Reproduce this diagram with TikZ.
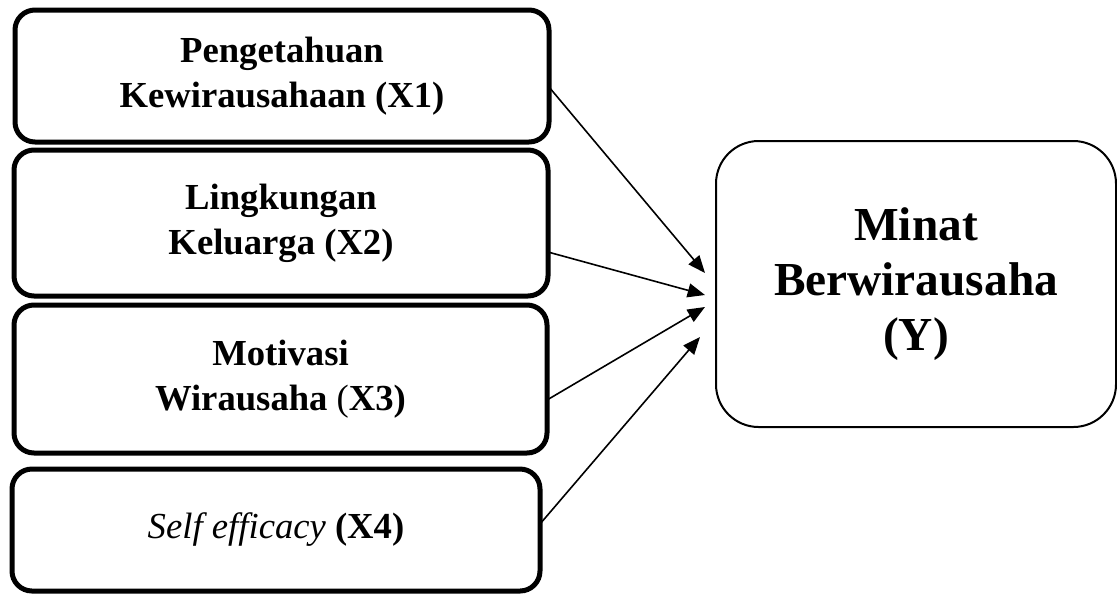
\documentclass[tikz,border=0pt]{standalone}
\usepackage{fontspec}
\setmainfont{Liberation Serif}
\usetikzlibrary{arrows.meta,calc}
\tikzset{
  lbox/.style={draw=black, line width=3.75pt, rounded corners=15pt, align=center,
    inner sep=0pt, outer sep=0pt,
    font=\fontsize{27.5}{33.75}\selectfont\bfseries},
  rbox/.style={draw=black, line width=1.5pt, rounded corners=32pt, align=center,
    inner sep=0pt, outer sep=0pt,
    font=\fontsize{35.5}{41.25}\selectfont\bfseries},
  arr/.style={line width=1.2pt, -{Triangle[length=13pt,width=10.5pt]}}
}
\begin{document}
\begin{tikzpicture}[x=0.75pt,y=-0.75pt]
\useasboundingbox (0,0) rectangle (1117,594);
\node[lbox, minimum width=400.5pt, minimum height=99pt] (b1) at (282,76)
  {Pengetahuan\\Kewirausahaan (X1)};
\node[lbox, minimum width=400.5pt, minimum height=109.5pt] (b2) at (281,223)
  {Lingkungan\\Keluarga (X2)};
\node[lbox, minimum width=399.75pt, minimum height=111pt] (b3) at (280.5,379)
  {Motivasi\\Wirausaha {\mdseries(}X3)};
\node[lbox, minimum width=396pt, minimum height=91.5pt] (b4) at (276,530)
  {{\mdseries\itshape Self efficacy} (X4)};
\node[rbox, minimum width=300pt, minimum height=214.5pt] (y) at (916,284)
  {Minat\\Berwirausaha\\(Y)};
\draw[arr] ($(b1.east)+(0,11)$) -- ($(y.west)+(-11,-11)$);
\draw[arr] ($(b2.east)+(0,29)$) -- ($(y.west)+(-11,11)$);
\draw[arr] ($(b3.east)+(0,21)$) -- ($(y.west)+(-11,23)$);
\draw[arr] ($(b4.east)+(0,-6)$) -- ($(y.west)+(-16,53)$);
\end{tikzpicture}
\end{document}
